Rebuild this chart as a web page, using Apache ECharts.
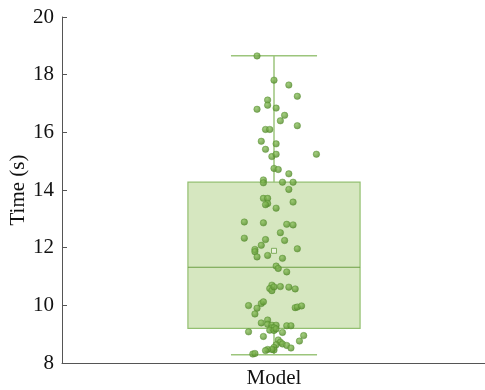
<!DOCTYPE html>
<html>
<head>
<meta charset="utf-8">
<style>
  html, body { margin: 0; padding: 0; background: #fff; }
  #chart { width: 485px; height: 390px; }
</style>
<script src="https://cdn.jsdelivr.net/npm/echarts@6/dist/echarts.min.js"></script>
</head>
<body>
<div id="chart"></div>
<script>
  // category + box stats: [min, q1, median, q3, max]
  var categories = ['Model'];
  var boxStats = [8.29, 9.20, 11.32, 14.27, 18.66];
  var meanValue = 11.89;
  var yTicks = { min: 8, max: 20, interval: 2 };

  var times = [
    18.65, 17.81, 17.64, 17.25, 17.12, 16.94, 16.80, 16.84, 16.59, 16.40,
    16.23, 16.10, 16.10, 15.69, 15.60, 15.41, 15.16, 15.24, 15.24, 14.75,
    14.71, 14.56, 14.35, 14.25, 14.27, 14.27, 14.02, 13.71, 13.71, 13.53,
    13.49, 13.37, 13.58, 12.89, 12.86, 12.81, 12.79, 12.33, 12.28, 12.52,
    12.25, 12.08, 11.94, 11.86, 11.96, 11.68, 11.73, 11.63, 11.36, 11.28,
    11.16, 10.70, 10.58, 10.51, 10.64, 10.65, 10.63, 10.57, 9.99, 9.90,
    10.06, 10.12, 9.70, 9.92, 9.94, 9.98, 9.39, 9.49, 9.34, 9.31,
    9.31, 9.29, 9.29, 9.22, 9.22, 9.14, 9.13, 9.18, 9.06, 9.08,
    8.92, 8.95, 8.76, 8.80, 8.72, 8.66, 8.61, 8.52, 8.63, 8.54,
    8.45, 8.47, 8.47, 8.43, 8.31, 8.33
  ];
  var jitter = [
    -0.08, 0.00, 0.07, 0.11, -0.03, -0.03, -0.08, 0.01, 0.05, 0.03,
    0.11, -0.04, -0.02, -0.06, 0.01, -0.04, -0.01, 0.01, 0.20, 0.00,
    0.02, 0.07, -0.05, -0.05, 0.04, 0.09, 0.07, -0.05, -0.03, -0.03,
    -0.04, 0.01, 0.09, -0.14, -0.05, 0.06, 0.09, -0.14, -0.04, 0.03,
    0.05, -0.06, -0.09, -0.09, 0.11, -0.08, -0.03, 0.04, 0.01, 0.02,
    0.06, -0.01, -0.02, -0.01, 0.00, 0.03, 0.07, 0.10, -0.12, -0.08,
    -0.06, -0.05, -0.09, 0.10, 0.11, 0.13, -0.06, -0.03, -0.03, -0.01,
    0.01, 0.06, 0.08, -0.01, 0.00, -0.02, 0.00, 0.01, 0.04, -0.12,
    -0.05, 0.14, 0.12, 0.02, 0.03, 0.04, 0.06, 0.08, 0.01, 0.00,
    0.00, -0.01, -0.03, -0.04, -0.10, -0.09
  ];

  var font = 'Liberation Serif';
  var points = times.map(function (t, i) { return [jitter[i], t]; });

  var myChart = echarts.init(document.getElementById('chart'));

  var option = {
    animation: false,
    grid: { left: 62, right: -1, top: 17, bottom: 27, containLabel: false, outerBoundsMode: 'none' },
    xAxis: [{
      type: 'category',
      data: categories,
      axisLine: { lineStyle: { color: '#555', width: 1 } },
      axisTick: { inside: true, length: 4, alignWithLabel: true, lineStyle: { color: '#555' } },
      axisLabel: { color: '#111', fontFamily: font, fontSize: 21, margin: 5 },
      splitLine: { show: false }
    }, {
      type: 'value',
      min: -1,
      max: 1,
      show: false
    }],
    yAxis: {
      type: 'value',
      min: yTicks.min,
      max: yTicks.max,
      interval: yTicks.interval,
      name: 'Time (s)',
      nameLocation: 'middle',
      nameGap: 33,
      nameMoveOverlap: false,
      nameTextStyle: { color: '#111', fontFamily: font, fontSize: 21 },
      axisLine: { show: true, onZero: false, lineStyle: { color: '#555', width: 1 } },
      axisTick: { show: true, inside: true, length: 5, lineStyle: { color: '#555' } },
      axisLabel: { color: '#111', fontFamily: font, fontSize: 21, margin: 8 },
      splitLine: { show: false }
    },
    series: [{
      type: 'custom',
      xAxisIndex: 1,
      z: 1,
      data: [[0].concat(boxStats)],
      renderItem: function (params, api) {
        var x = api.value(0);
        var lo = api.value(1), q1 = api.value(2), med = api.value(3),
            q3 = api.value(4), hi = api.value(5);
        var bw = 0.406, cw = 0.203;
        var tl = api.coord([x - bw, q3]), br = api.coord([x + bw, q1]);
        var m1 = api.coord([x - bw, med]), m2 = api.coord([x + bw, med]);
        var top = api.coord([x, hi]), bot = api.coord([x, lo]);
        var q3c = api.coord([x, q3]), q1c = api.coord([x, q1]);
        var capL = api.coord([x - cw, hi])[0], capR = api.coord([x + cw, hi])[0];
        var whisk = { stroke: '#9cc57c', lineWidth: 1.5 };
        return {
          type: 'group',
          children: [
            { type: 'line', shape: { x1: top[0], y1: top[1], x2: q3c[0], y2: q3c[1] }, style: whisk },
            { type: 'line', shape: { x1: q1c[0], y1: q1c[1], x2: bot[0], y2: bot[1] }, style: whisk },
            { type: 'line', shape: { x1: capL, y1: top[1], x2: capR, y2: top[1] }, style: whisk },
            { type: 'line', shape: { x1: capL, y1: bot[1], x2: capR, y2: bot[1] }, style: whisk },
            { type: 'rect', shape: { x: tl[0], y: tl[1], width: br[0] - tl[0], height: br[1] - tl[1] },
              style: { fill: '#d6e7c0', stroke: '#93bf70', lineWidth: 1.2 } },
            { type: 'line', shape: { x1: m1[0], y1: m1[1], x2: m2[0], y2: m2[1] },
              style: { stroke: '#6c9f45', lineWidth: 1.2 } }
          ]
        };
      }
    }, {
      type: 'scatter',
      xAxisIndex: 1,
      z: 3,
      symbol: 'circle',
      symbolSize: 6.5,
      data: points,
      itemStyle: {
        color: new echarts.graphic.RadialGradient(0.4, 0.35, 0.6, [
          { offset: 0, color: '#8cc25e' },
          { offset: 1, color: '#578e2c' }
        ]),
        borderColor: '#4f8a2a',
        borderWidth: 0.5
      }
    }, {
      type: 'scatter',
      xAxisIndex: 1,
      z: 4,
      symbol: 'rect',
      symbolSize: 5,
      data: [[0, meanValue]],
      itemStyle: { color: '#eef5e4', borderColor: '#6c9f45', borderWidth: 1 }
    }]
  };

  myChart.setOption(option);
</script>
</body>
</html>
